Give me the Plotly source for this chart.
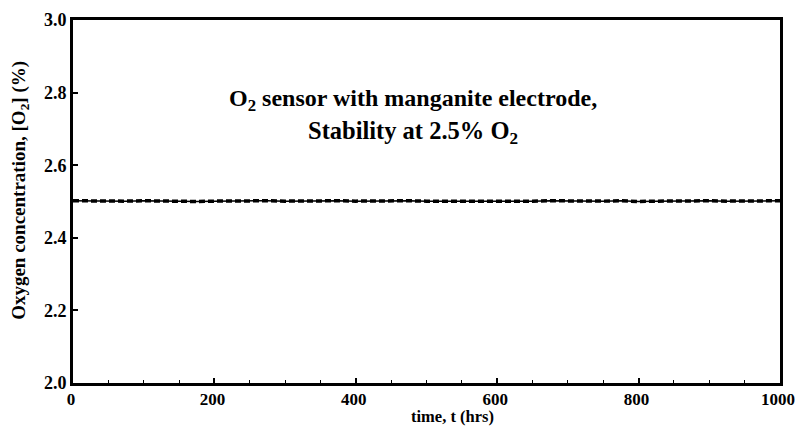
import plotly.graph_objects as go

time_hrs = [0, 25, 50, 75, 100, 125, 150, 175, 200, 225, 250, 275, 300, 325, 350, 375,
            400, 425, 450, 475, 500, 525, 550, 575, 600, 625, 650, 675, 700, 725, 750,
            775, 800, 825, 850, 875, 900, 925, 950, 975, 1000]
o2_conc = [2.502, 2.501, 2.502, 2.501, 2.502, 2.501, 2.502, 2.500, 2.501, 2.502, 2.501,
           2.502, 2.501, 2.502, 2.501, 2.502, 2.501, 2.502, 2.501, 2.502, 2.501, 2.501,
           2.499, 2.499, 2.499, 2.500, 2.501, 2.502, 2.501, 2.502, 2.501, 2.502, 2.500,
           2.501, 2.502, 2.501, 2.502, 2.501, 2.502, 2.501, 2.502]

x_ticks = [0, 200, 400, 600, 800, 1000]
y_ticks = [2.0, 2.2, 2.4, 2.6, 2.8, 3.0]
y_tick_labels = ["2.0", "2.2", "2.4", "2.6", "2.8", "3.0"]

FF = "Liberation Serif, Times New Roman, serif"

def f(size):
    return dict(family=FF, size=size, color="black", weight="bold")

fig = go.Figure()
fig.add_trace(go.Scatter(x=time_hrs, y=o2_conc, mode="lines",
                         line=dict(color="black", width=1.5), showlegend=False))
fig.add_trace(go.Scatter(x=time_hrs, y=o2_conc, mode="lines",
                         line=dict(color="black", width=3.5, dash="6px,3px"), showlegend=False))

fig.add_annotation(x=481, y=2.78, text="O<sub>2</sub> sensor with manganite electrode,",
                   showarrow=False, font=f(24))
fig.add_annotation(x=481, y=2.69, text="Stability at 2.5% O<sub>2</sub>",
                   showarrow=False, font=f(24.5))
fig.add_annotation(x=0.537, y=-0.093, xref="paper", yref="paper", yanchor="middle",
                   text="time, t (hrs)", showarrow=False, font=f(16.5))
fig.add_annotation(x=-0.075, y=0.532, xref="paper", yref="paper", xanchor="center",
                   yanchor="middle",
                   text="Oxygen concentration, [O<sub>2</sub>] (%)", textangle=-90,
                   showarrow=False, font=f(19))

fig.update_layout(
    width=798, height=426,
    margin=dict(l=73, r=18, t=20, b=43),
    paper_bgcolor="white", plot_bgcolor="white",
    font=dict(family=FF, color="black"),
    xaxis=dict(range=[0, 1000], tickvals=x_ticks, ticks="inside", ticklen=5, tickwidth=1.5,
               tickcolor="black", showline=True, linewidth=3, linecolor="black", mirror=True,
               showgrid=False, zeroline=False, automargin=False, tickfont=f(17),
               ticklabelshift=-2, ticklabelstandoff=-1,
               minor=dict(dtick=50, ticks="inside", ticklen=3, tickcolor="black", tickwidth=1)),
    yaxis=dict(range=[2.0, 3.0], tickvals=y_ticks, ticktext=y_tick_labels, ticks="inside",
               ticklen=5, tickwidth=1.5, tickcolor="black", showline=True, linewidth=3,
               linecolor="black", mirror=True, showgrid=False, zeroline=False,
               automargin=False, tickfont=f(18)),
)

fig.write_html("out.html", config={"displayModeBar": False},
               post_script="document.body.style.margin='0';document.body.style.overflow='hidden';")
